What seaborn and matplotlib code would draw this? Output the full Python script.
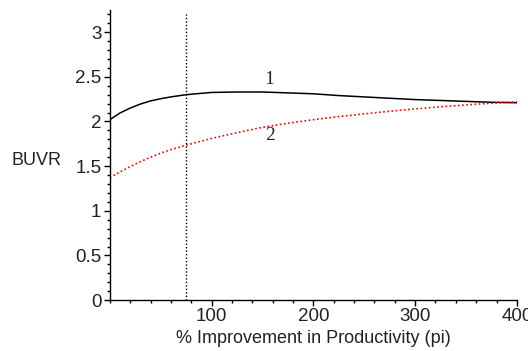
import matplotlib
matplotlib.use("Agg")
import matplotlib.pyplot as plt
import seaborn as sns
import pandas as pd
from matplotlib.ticker import MultipleLocator

sns.set_style("white")
plt.rcParams['font.family'] = ['Liberation Sans', 'DejaVu Sans']

pi_values = [0, 10, 20, 30, 40, 50, 60, 75, 100, 125, 150, 175, 200, 225,
             250, 275, 300, 325, 350, 375, 400]
buvr_1 = [2.02, 2.095, 2.15, 2.195, 2.23, 2.255, 2.275, 2.30, 2.325, 2.33, 2.33,
          2.32, 2.31, 2.29, 2.275, 2.26, 2.245, 2.235, 2.225, 2.215, 2.21]
buvr_2 = [1.37, 1.435, 1.495, 1.55, 1.60, 1.645, 1.685, 1.735, 1.81, 1.875, 1.935,
          1.98, 2.02, 2.055, 2.085, 2.115, 2.14, 2.165, 2.185, 2.205, 2.22]
vline_x = 75
x_ticks = [100, 200, 300, 400]
y_ticks = [0, 0.5, 1, 1.5, 2, 2.5, 3]
curve_labels = ["1", "2"]

df = pd.DataFrame({"pi": pi_values, "c1": buvr_1, "c2": buvr_2})

fig = plt.figure(figsize=(5.28, 3.51), dpi=100)
ax = fig.add_axes([0.208, 0.145, 0.771, 0.827])

sns.lineplot(data=df, x="pi", y="c1", ax=ax, color="black", linewidth=1.1)
sns.lineplot(data=df, x="pi", y="c2", ax=ax, color="red", linewidth=1.2,
             linestyle=(0, (1, 1.5)))
ax.axvline(vline_x, ymin=0, ymax=0.985, color="black", linewidth=1.0,
           linestyle=(0, (1, 1.5)))

ax.text(157, 2.47, curve_labels[0], family="Liberation Serif", fontsize=14,
        ha="center", va="center")
ax.text(157, 1.84, curve_labels[1], family="Liberation Serif", fontsize=14,
        ha="center", va="center")

ax.set_xlim(0, 400)
ax.set_ylim(0, 3.25)
ax.set_xticks(x_ticks)
ax.set_yticks(y_ticks)
ax.set_yticklabels([f"{v:g}" for v in y_ticks])
ax.xaxis.set_minor_locator(MultipleLocator(20))
ax.yaxis.set_minor_locator(MultipleLocator(0.1))
ax.tick_params(axis="both", which="both", bottom=True, left=True)
ax.tick_params(axis="both", which="major", direction="out", length=4,
               width=1, labelsize=13.5, colors="black", labelcolor="#222222",
               pad=2)
ax.tick_params(axis="both", which="minor", direction="out", length=2.5,
               width=1, colors="black")
for s in ["top", "right"]:
    ax.spines[s].set_visible(False)
for s in ["left", "bottom"]:
    ax.spines[s].set_color("black")
    ax.spines[s].set_linewidth(1.0)

ax.set_xlabel("% Improvement in Productivity (pi)", fontsize=13, labelpad=3,
              color="#222222")
ax.set_ylabel("BUVR", fontsize=13, rotation=0, va="center", color="#222222")
ax.yaxis.set_label_coords(-0.18, 0.48)

fig.savefig("out.png", dpi=100)
